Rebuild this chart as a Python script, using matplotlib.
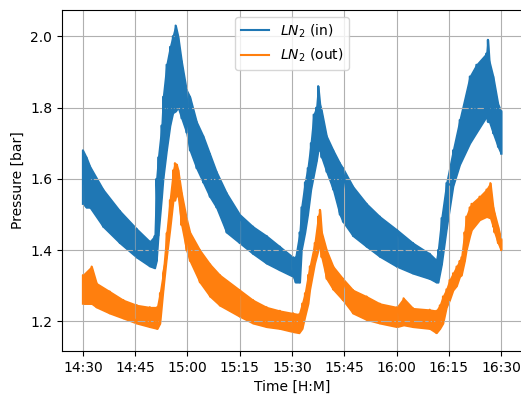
import numpy as np
import pandas as pd
import matplotlib
matplotlib.use("Agg")
import matplotlib.pyplot as plt
import matplotlib.dates as mdates

# minutes after 14:30, with lower / upper edge of the noisy trace (bar)
t_in = [0.0, 1.0, 2.0, 5.8, 10.6, 15.4, 19.2, 20.6, 21.1, 21.6, 22.6, 23.0, 24.0,
        25.0, 25.8, 26.6, 27.3, 28.3, 29.7, 30.7, 32.6, 34.5, 36.4, 38.3, 41.2,
        45.0, 48.8, 52.7, 56.5, 60.3, 61.0, 62.2, 62.7, 63.7, 64.5, 65.4, 66.2,
        67.0, 67.5, 68.0, 68.5, 69.9, 71.8, 73.7, 74.6, 77.5, 81.4, 85.2, 90.1,
        94.7, 99.5, 101.4, 101.9, 102.9, 104.3, 106.2, 108.1, 111.0, 112.9,
        115.8, 116.2, 116.6, 117.7, 119.1, 120.0]
lo_in = [1.53, 1.52, 1.52, 1.466, 1.42, 1.38, 1.355, 1.35, 1.37, 1.44, 1.55, 1.60, 1.68,
         1.75, 1.785, 1.79, 1.80, 1.77, 1.73, 1.68, 1.63, 1.59, 1.55, 1.52, 1.45,
         1.42, 1.39, 1.363, 1.344, 1.326, 1.31, 1.31, 1.40, 1.45, 1.50, 1.57, 1.61,
         1.65, 1.68, 1.68, 1.66, 1.62, 1.57, 1.50, 1.48, 1.44, 1.41, 1.382, 1.354,
         1.335, 1.32, 1.31, 1.31, 1.36, 1.46, 1.58, 1.64, 1.70, 1.73,
         1.775, 1.76, 1.76, 1.728, 1.69, 1.67]
hi_in = [1.68, 1.66, 1.635, 1.57, 1.51, 1.46, 1.424, 1.44, 1.60, 1.66, 1.75, 1.83, 1.92,
         1.97, 2.00, 2.03, 2.00, 1.93, 1.85, 1.83, 1.76, 1.72, 1.67, 1.62, 1.56,
         1.50, 1.466, 1.44, 1.41, 1.38, 1.38, 1.45, 1.52, 1.59, 1.63, 1.70, 1.78,
         1.80, 1.86, 1.81, 1.79, 1.72, 1.68, 1.644, 1.63, 1.578, 1.53, 1.494, 1.457,
         1.42, 1.39, 1.372, 1.40, 1.49, 1.588, 1.68, 1.765, 1.887, 1.92,
         1.952, 1.99, 1.93, 1.887, 1.81, 1.79]

t_out = [0.0, 2.5, 3.9, 7.7, 11.6, 15.4, 19.2, 21.3, 22.1, 23.0, 24.0, 24.95, 25.9,
         26.4, 26.9, 27.3, 28.3, 29.7, 30.7, 33.55, 36.5, 39.3, 45.0, 48.8, 52.7,
         56.5, 60.3, 62.0, 62.9, 63.7, 64.6, 65.1, 66.5, 67.5, 68.0, 68.5, 69.9,
         71.8, 74.6, 77.5, 81.4, 85.2, 90.1, 92.0, 94.7, 99.5, 101.4, 102.4, 103.3,
         104.3, 105.2, 106.2, 107.2, 108.1, 108.6, 109.5, 110.0, 111.0, 111.5,
         113.8, 115.8, 116.9, 117.7, 118.1, 119.1, 120.0]
lo_out = [1.25, 1.25, 1.24, 1.223, 1.209, 1.195, 1.185, 1.18, 1.195, 1.288, 1.38, 1.457, 1.54,
          1.54, 1.56, 1.55, 1.47, 1.40, 1.37, 1.31, 1.27, 1.245, 1.214, 1.195, 1.185,
          1.18, 1.171, 1.168, 1.18, 1.214, 1.25, 1.29, 1.363, 1.40, 1.42, 1.38, 1.32,
          1.29, 1.26, 1.223, 1.205, 1.195, 1.185, 1.19, 1.185, 1.18, 1.168, 1.18, 1.195,
          1.24, 1.26, 1.288, 1.30, 1.326, 1.33, 1.37, 1.40, 1.44, 1.457,
          1.485, 1.494, 1.49, 1.466, 1.45, 1.42, 1.40]
hi_out = [1.33, 1.354, 1.307, 1.284, 1.26, 1.246, 1.24, 1.24, 1.279, 1.335, 1.447, 1.54, 1.624,
          1.644, 1.64, 1.625, 1.56, 1.49, 1.45, 1.40, 1.36, 1.33, 1.288, 1.26, 1.24,
          1.23, 1.223, 1.22, 1.25, 1.279, 1.33, 1.354, 1.42, 1.494, 1.513, 1.45, 1.40,
          1.354, 1.32, 1.288, 1.27, 1.25, 1.24, 1.265, 1.237, 1.233, 1.23, 1.245, 1.27,
          1.29, 1.316, 1.335, 1.354, 1.37, 1.38, 1.45, 1.494, 1.52, 1.53,
          1.55, 1.57, 1.588, 1.52, 1.503, 1.466, 1.43]

start = pd.Timestamp("2021-01-01 14:30")


def times(t):
    return (start + pd.to_timedelta(np.array(t), unit="min")).to_pydatetime()


fig = plt.figure(figsize=(5.21, 3.94), dpi=100)
ax = fig.add_axes([0.119, 0.109, 0.883, 0.866])

for t, lo, hi, col, lab in [(t_in, lo_in, hi_in, "C0", r"$LN_2$ (in)"),
                            (t_out, lo_out, hi_out, "C1", r"$LN_2$ (out)")]:
    x = times(t)
    ax.fill_between(x, lo, hi, color=col, lw=1.2, edgecolor=col)
    # trace drawn as a zig-zag between the read lower and upper edges
    ax.plot(np.repeat(x, 2), np.column_stack([lo, hi]).ravel(), color=col, label=lab)

ax.xaxis.set_major_locator(mdates.MinuteLocator(byminute=[0, 15, 30, 45]))
ax.xaxis.set_major_formatter(mdates.DateFormatter("%H:%M"))
ax.set_ylim(1.117, 2.074)
ax.set_yticks([1.2, 1.4, 1.6, 1.8, 2.0])
ax.grid(True)
ax.set_xlabel("Time [H:M]")
ax.set_ylabel("Pressure [bar]")
ax.legend(loc="upper center")

fig.savefig("out.png", dpi=100)
